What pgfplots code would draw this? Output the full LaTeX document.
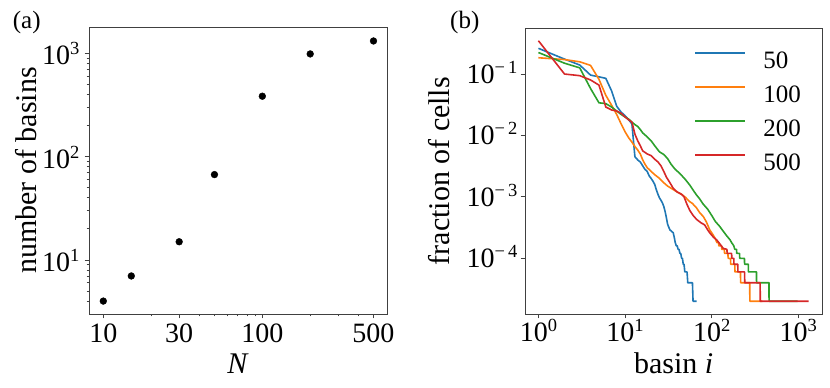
\documentclass[border=0pt]{standalone}
\usepackage{fontspec}
\setmainfont{Liberation Serif}
\usepackage{pgfplots}
\pgfplotsset{compat=1.18}
\newcommand\fs{\fontsize{28}{30}\selectfont}
\newcommand\fl{\fontsize{30}{32}\selectfont}
\newcommand\fg{\fontsize{25}{27}\selectfont}
\newcommand\pw[1]{10\raisebox{10pt}{\fontsize{18.5}{19}\selectfont #1}}
\definecolor{c0}{HTML}{1F77B4}
\definecolor{c1}{HTML}{FF7F0E}
\definecolor{c2}{HTML}{2CA02C}
\definecolor{c3}{HTML}{D62728}
\begin{document}
\begin{tikzpicture}[x=1pt,y=1pt]
\useasboundingbox (0,0) rectangle (830,388);
\begin{axis}[
  scale only axis, anchor=south west,
  xmode=log, ymode=log,
  axis line style={black!75, line width=0.8pt},
  tick style={black!75, line width=0.8pt},
  tick align=outside, tick pos=left,
  major tick length=4.5pt, minor tick length=2.5pt,
  tick label style={font=\fs},
  xticklabel style={anchor=base, yshift=-24pt, inner sep=0pt},
  yticklabel style={anchor=base east, yshift=-11.5pt, inner sep=5pt},
  xlabel style={font=\fl, at={(axis description cs:0.5,-0.2056)}, anchor=base, inner sep=0pt},
  ylabel style={font=\fl, at={(axis description cs:-0.1745,0.5)}, anchor=south, inner sep=0pt},
  at={(89pt,74pt)}, width=298pt, height=287pt,
  xmin=8.13, xmax=608, ymin=3.0, ymax=1795,
  xtick={10,30,100,500}, xticklabels={10,30,100,500},
  minor xtick={20,40,50,60,70,80,90,200,300,400},
  ytick={10,100,1000}, yticklabels={\pw{1},\pw{2},\pw{3}},
  minor ytick={4,5,6,7,8,9,20,30,40,50,60,70,80,90,200,300,400,500,600,700,800,900},
  xlabel={\textit{N}}, ylabel={number of basins},
]
\addplot[only marks, mark=*, mark size=3.4pt, black] coordinates {
(10,4) (15,7) (30,15) (50,67) (100,384) (200,985) (500,1315)};
\end{axis}
\begin{axis}[
  scale only axis, anchor=south west,
  xmode=log, ymode=log,
  axis line style={black!75, line width=0.8pt},
  tick style={black!75, line width=0.8pt},
  tick align=outside, tick pos=left,
  major tick length=4.5pt, minor tick length=2.5pt,
  tick label style={font=\fs},
  xticklabel style={anchor=base, yshift=-23.5pt, inner sep=0pt},
  yticklabel style={anchor=base east, yshift=-9.5pt, inner sep=3pt},
  xlabel style={font=\fl, at={(axis description cs:0.5,-0.2065)}, anchor=base, inner sep=0pt},
  ylabel style={font=\fl, at={(axis description cs:-0.252,0.5)}, anchor=south, inner sep=0pt},
  at={(525pt,74pt)}, width=297.3pt, height=285.7pt,
  xmin=0.70, xmax=1894, ymin=1.24e-5, ymax=0.555,
  xtick={1,10,100,1000}, xticklabels={\pw{0},\pw{1},\pw{2},\pw{3}},
  ytick={1e-4,1e-3,1e-2,1e-1}, yticklabels={\pw{−\,4},\pw{−\,3},\pw{−\,2},\pw{−\,1}},
  xminorticks=false, yminorticks=false,
  xlabel={basin \textit{i}}, ylabel={fraction of cells},
  legend style={at={(0.572,0.918)}, anchor=north west, draw=none, fill=none,
    font=\fg, row sep=16pt, inner sep=0pt, nodes={inner sep=0pt},
    /tikz/every odd column/.append style={column sep=18pt}},
  legend cell align=left,
  legend image code/.code={\fill[#1, draw=none] (0pt,7.1pt) rectangle (50pt,8.9pt);},
]
\addplot[c0, line width=1.6pt, line join=round] coordinates {
(1,0.262) (2,0.175) (3,0.140) (4,0.096) (5,0.090) (6,0.085) (7,0.053) (8,0.030) (9,0.024) (10,0.021) (11,0.018) (12,0.0155) (13,0.0045) (14,0.0040) (15,0.0037) (16,0.0032) (17,0.0028) (18,0.0026) (19,0.0022) (20,0.0020) (21,0.0018) (22,0.0016) (23,0.0013) (24,0.0011) (25,0.00096) (26,0.00088) (27,0.0008) (28,0.0007) (29,0.00058) (30,0.00046) (31,0.00036) (32,0.00032) (33,0.00029) (34,0.00028) (35,0.00027) (36,0.00026) (37,0.00022) (38,0.00018) (39,0.00016) (40,0.00016) (41,0.00014) (42,0.00014) (43,0.00012) (44,0.00012) (45,0.0001) (46,0.0001) (47,8e-5) (48,8e-5) (49,6e-5) (52,6e-5) (53,4e-5) (60,4e-5) (61,2e-5) (67,2e-5)};
\addlegendentry{50}
\addplot[c1, line width=1.6pt, line join=round] coordinates {
(1,0.184) (2,0.172) (3,0.158) (4,0.138) (5,0.082) (6,0.045) (7,0.031) (8,0.022) (9,0.0155) (10,0.0115) (11,0.0092) (12,0.0078) (13,0.0066) (14,0.0058) (15,0.0050) (16,0.0040) (17,0.0034) (18,0.0030) (20,0.0026) (22,0.0023) (25,0.0020) (28,0.0017) (31,0.0015) (35,0.00135) (40,0.0012) (45,0.0011) (50,0.00098) (55,0.00085) (60,0.00078) (67,0.00066) (73,0.00055) (80,0.00048) (87,0.00039) (95,0.00029) (104,0.00024) (110,0.00021) (115,0.00018) (120,0.00018) (121,0.00016) (130,0.00016) (131,0.00014) (140,0.00014) (141,0.00012) (154,0.00012) (155,1e-4) (165,1e-4) (166,8e-5) (185,8e-5) (186,6e-5) (215,6e-5) (216,4e-5) (275,4e-5) (276,2e-5) (384,2e-5)};
\addlegendentry{100}
\addplot[c2, line width=1.6pt, line join=round] coordinates {
(1,0.224) (2,0.150) (3,0.126) (4,0.058) (5,0.034) (6,0.033) (7,0.029) (8,0.025) (9,0.022) (10,0.020) (11,0.0185) (12,0.0165) (13,0.015) (14,0.014) (15,0.0125) (16,0.011) (18,0.0095) (20,0.0082) (22,0.0068) (25,0.0054) (28,0.0049) (31,0.0042) (34,0.0034) (38,0.0028) (43,0.0024) (50,0.0019) (56,0.00155) (62,0.00125) (67,0.00107) (73,0.00092) (80,0.00076) (90,0.00063) (100,0.00050) (110,0.00040) (124,0.00033) (135,0.00028) (150,0.00023) (163,0.0002) (170,0.00018) (180,0.00016) (185,0.00014) (194,0.00014) (195,0.00012) (210,0.00012) (211,1e-4) (239,1e-4) (240,8e-5) (265,8e-5) (266,6e-5) (329,6e-5) (330,4e-5) (459,4e-5) (460,2e-5) (985,2e-5)};
\addlegendentry{200}
\addplot[c3, line width=1.6pt, line join=round] coordinates {
(1,0.348) (2,0.100) (3,0.094) (4,0.080) (5,0.066) (6,0.029) (7,0.026) (8,0.025) (9,0.023) (10,0.020) (11,0.018) (12,0.0165) (13,0.0105) (14,0.0082) (15,0.0068) (16,0.0056) (17,0.0053) (18,0.0050) (20,0.0047) (22,0.0041) (24,0.0037) (26,0.0032) (28,0.0026) (30,0.0021) (33,0.0017) (36,0.00138) (40,0.0012) (45,0.0011) (48,0.00100) (52,0.00075) (56,0.00060) (61,0.0005) (67,0.00043) (75,0.00038) (83,0.00035) (90,0.00029) (95,0.00026) (105,0.00022) (114,0.0002) (125,0.00017) (136,0.000145) (150,0.00014) (151,0.00012) (170,0.00012) (171,1e-4) (180,1e-4) (181,8e-5) (200,8e-5) (201,6e-5) (240,6e-5) (241,4e-5) (363,4e-5) (364,2e-5) (1315,2e-5)};
\addlegendentry{500}
\end{axis}
\node[anchor=base west, inner sep=0pt, font=\fontsize{25}{27}\selectfont] at (12.7,359.5) {(a)};
\node[anchor=base west, inner sep=0pt, font=\fontsize{25}{27}\selectfont] at (450,359.5) {(b)};
\end{tikzpicture}
\end{document}
